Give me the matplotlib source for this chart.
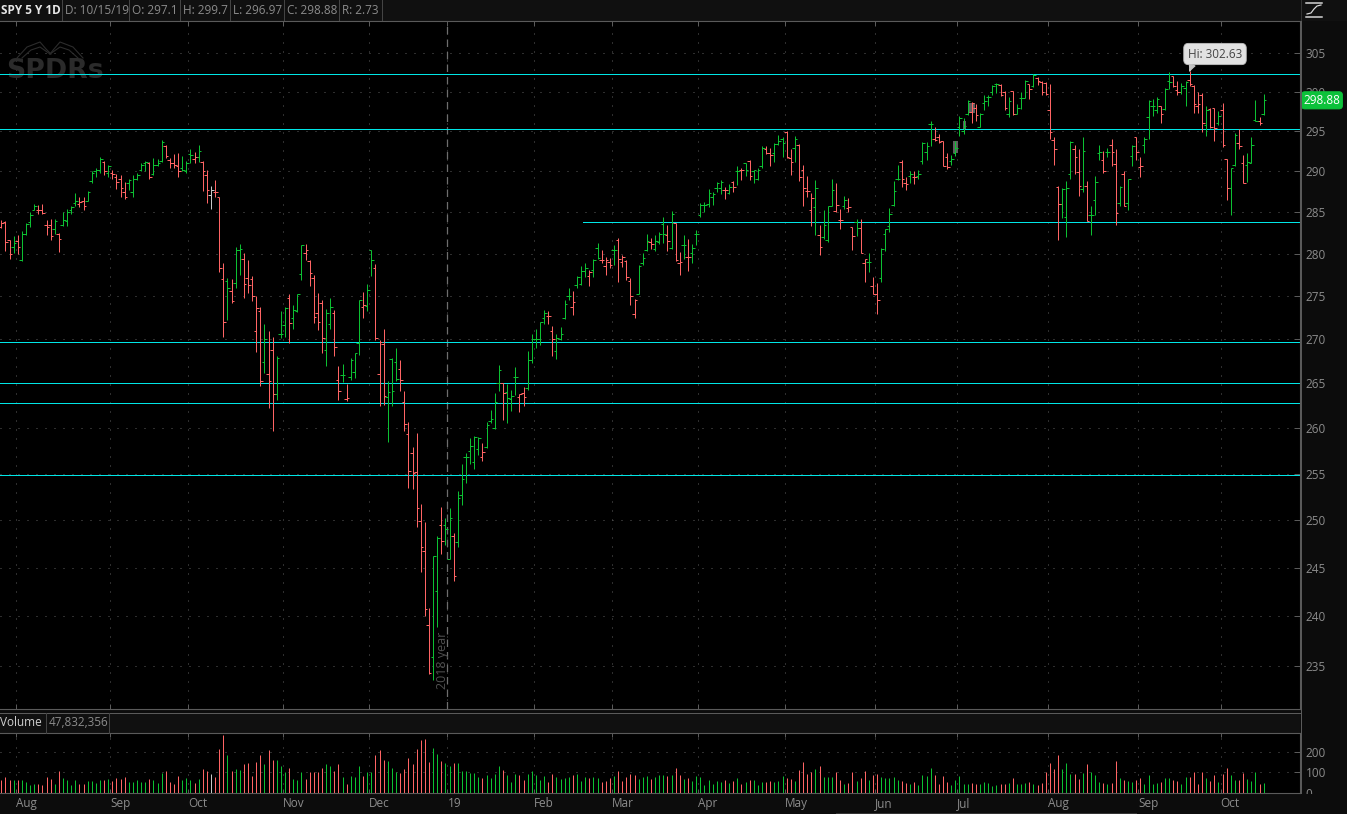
import matplotlib
matplotlib.use('Agg')
import matplotlib.pyplot as plt
from matplotlib.collections import LineCollection
from matplotlib.lines import Line2D
from matplotlib.patches import Rectangle
from matplotlib.ticker import NullLocator
from matplotlib.transforms import Bbox
import numpy as np

plt.rcParams['font.family'] = ['Open Sans', 'DejaVu Sans']

# SPY daily bars, 2018-07-26 to 2019-10-15
opens = [283.2,283.8,281.6,280.8,281.5,279.3,282.4,283.8,285.3,285.3,
    285.3,283.5,283.5,283.0,282.4,283.4,283.9,285.2,286.1,286.0,
    286.4,286.4,288.8,290.0,290.1,291.2,289.8,289.8,289.3,289.1,
    287.5,288.6,287.5,289.1,290.2,291.0,291.0,289.7,290.8,291.3,
    293.1,291.4,291.0,290.6,290.4,290.0,292.1,291.5,291.8,291.2,
    289.5,287.1,287.4,286.9,277.0,276.8,275.6,276.5,280.4,279.4,
    277.1,277.0,271.0,273.3,267.4,266.0,268.8,263.8,270.6,271.6,
    274.8,272.4,273.3,277.6,280.1,279.1,277.1,273.0,274.2,268.8,
    271.7,273.0,265.4,265.9,263.2,265.7,266.3,269.6,273.7,273.9,
    280.4,278.3,266.0,269.5,263.4,267.7,267.4,266.6,262.9,259.3,
    257.2,255.2,249.9,246.7,239.1,235.9,242.6,249.5,249.5,245.9,
    248.3,247.7,252.7,256.8,257.5,256.3,257.7,256.8,257.9,260.8,
    260.0,265.0,265.0,264.0,263.2,265.7,263.4,263.9,264.5,267.6,
    270.0,270.0,272.4,272.7,270.9,268.7,270.0,272.4,275.0,273.7,
    276.3,276.4,277.9,277.4,278.1,280.7,279.2,278.6,279.0,280.4,
    281.7,279.0,279.1,276.8,272.9,275.2,278.9,280.4,281.4,280.6,
    281.4,283.6,282.2,280.7,283.7,278.9,281.0,279.6,280.1,282.4,
    284.6,285.9,286.0,286.8,287.9,288.0,287.7,287.3,288.7,290.0,
    290.2,291.0,291.3,290.0,289.0,290.6,292.8,292.2,292.2,293.4,
    294.0,294.9,291.6,292.9,293.3,290.2,287.6,285.3,285.6,282.3,
    282.0,281.6,285.8,285.1,284.0,285.8,285.5,283.2,283.8,283.1,
    278.9,279.0,276.2,275.2,277.1,282.4,283.3,285.9,289.0,291.1,
    288.5,289.4,289.3,289.4,291.3,292.4,295.9,294.0,294.2,293.7,
    291.8,291.3,292.2,295.5,295.0,297.1,297.4,297.9,295.5,298.5,
    299.3,299.9,301.0,300.8,300.0,297.1,300.1,297.2,299.2,299.2,
    300.9,300.7,301.7,301.2,301.1,297.7,293.9,288.1,286.0,284.4,
    289.7,292.8,289.9,287.8,288.2,284.6,286.5,292.3,291.4,292.4,
    293.3,290.9,286.1,289.7,286.1,291.9,294.3,290.5,293.2,296.8,
    298.1,297.7,298.1,297.8,301.3,302.0,300.2,300.0,300.5,301.5,
    300.7,298.2,299.6,295.8,297.8,297.9,296.0,297.7,291.5,288.0,
    290.8,293.5,291.0,290.8,291.0,296.4,296.2,297.1]
highs = [284.1,283.9,281.6,282.1,282.2,282.7,283.7,285.0,286.0,285.9,
    286.0,284.1,284.2,284.2,282.5,285.0,285.4,285.7,287.3,286.8,
    286.8,287.6,290.0,290.4,291.7,291.3,290.8,290.2,289.7,289.5,
    288.7,289.1,289.5,289.8,291.0,291.3,291.1,291.6,291.5,293.9,
    293.2,291.6,292.1,292.2,291.9,291.3,292.8,292.4,293.2,291.3,
    290.2,288.2,288.9,286.9,278.9,277.1,277.0,280.8,281.2,280.1,
    279.3,277.4,275.0,273.7,271.8,271.0,270.3,268.1,273.3,273.7,
    275.2,274.0,275.2,281.1,281.2,279.3,277.5,275.4,274.6,273.5,
    274.8,273.4,267.0,267.2,264.9,267.8,268.4,274.6,275.5,276.4,
    280.5,278.8,269.9,271.2,265.2,267.8,269.0,267.6,264.1,260.7,
    257.9,259.4,251.7,249.8,240.8,246.2,248.3,251.4,250.2,251.3,
    248.6,253.1,256.0,257.3,258.9,259.1,259.0,258.3,260.7,262.0,
    263.9,267.1,265.0,264.9,264.2,266.8,263.8,264.6,268.6,270.6,
    271.2,272.0,273.4,273.3,271.5,270.6,271.4,274.6,276.0,275.6,
    277.4,278.6,278.9,278.1,279.4,281.3,280.4,279.6,279.5,281.0,
    281.9,279.8,279.2,277.1,274.7,278.7,280.1,282.4,281.9,282.3,
    282.6,284.4,283.5,285.1,283.7,280.2,282.2,281.8,281.2,282.9,
    286.1,286.2,287.8,287.4,288.7,288.9,288.1,288.4,288.8,290.6,
    290.4,291.0,291.4,290.2,290.4,293.1,293.1,292.9,293.5,294.5,
    294.2,295.0,292.8,294.4,293.4,290.8,289.4,287.3,288.9,283.5,
    285.2,285.8,289.1,288.5,285.4,287.0,286.7,283.2,284.2,284.2,
    279.4,280.1,277.2,276.5,280.7,283.0,285.5,288.8,290.8,291.4,
    289.3,290.0,290.0,290.2,293.6,293.6,296.2,295.5,294.6,293.8,
    292.3,292.0,293.7,296.9,296.6,298.9,298.7,298.4,297.3,299.6,
    299.6,300.8,301.1,301.0,300.1,299.3,300.1,298.4,300.0,301.5,
    301.0,302.2,301.9,301.3,301.2,300.9,294.2,288.2,288.0,288.8,
    293.7,293.2,292.7,294.2,288.8,285.7,289.4,293.2,292.5,292.9,
    294.0,292.8,288.2,290.0,289.1,293.3,294.3,291.7,294.2,298.9,
    299.0,299.3,298.1,300.4,302.5,302.0,301.3,301.1,301.3,302.63,
    300.8,299.9,299.8,298.2,297.9,297.9,297.5,298.5,291.5,290.4,
    294.7,295.2,292.0,292.3,294.3,298.9,296.8,299.7]
lows = [283.1,280.3,279.4,280.1,280.0,279.1,282.3,283.2,285.2,284.8,
    284.8,282.3,281.7,282.4,280.2,283.3,283.3,284.8,285.7,285.6,
    285.3,286.3,288.6,289.3,289.8,289.5,289.3,289.1,287.8,286.9,
    286.6,287.7,286.9,288.9,290.0,290.0,289.1,289.5,290.7,291.2,
    291.6,290.4,290.4,289.3,290.0,289.8,291.0,291.0,291.2,287.6,
    286.1,285.4,286.9,277.8,270.3,272.2,274.2,276.0,277.5,274.8,
    275.4,274.4,268.5,264.7,266.2,262.2,259.7,263.1,270.1,270.3,
    269.6,271.2,273.2,276.9,279.2,276.2,271.9,271.1,268.4,266.9,
    271.2,268.1,263.1,265.1,263.0,265.4,265.6,268.2,272.4,273.3,
    277.4,269.9,262.4,262.5,258.5,262.4,265.3,264.1,259.7,253.4,
    253.3,249.3,244.6,240.0,234.2,233.6,238.9,246.4,247.4,245.9,
    243.6,247.2,251.6,254.0,256.1,255.5,257.0,256.4,257.8,260.5,
    259.9,264.1,260.9,260.6,261.9,263.7,261.8,262.4,264.2,267.3,
    269.0,269.3,271.8,271.8,268.1,267.7,269.9,272.3,274.5,272.8,
    276.0,276.3,277.2,276.2,277.3,279.4,278.9,277.5,278.3,278.7,
    276.7,278.4,276.9,274.0,272.4,275.2,278.7,280.3,280.6,280.3,
    281.2,281.3,280.3,280.6,279.1,277.5,279.4,277.9,278.9,281.1,
    284.4,285.0,285.6,285.9,287.4,287.2,286.6,287.2,287.5,288.3,
    288.9,289.4,288.9,288.6,288.9,290.4,292.1,290.7,291.2,293.3,
    291.8,291.6,289.5,291.2,288.8,285.8,286.8,283.3,282.2,279.9,
    281.8,281.4,285.7,285.0,283.0,285.4,285.0,280.5,282.1,280.1,
    276.6,277.8,275.2,272.9,276.6,280.3,282.6,285.7,288.9,288.1,
    287.7,288.5,288.4,289.1,290.9,291.4,293.1,293.7,293.5,290.6,
    290.3,290.8,291.9,294.4,294.6,297.0,296.0,296.3,295.5,297.7,
    298.1,299.6,299.8,299.4,297.7,296.8,297.0,297.1,297.8,299.2,
    299.1,300.6,300.8,299.6,299.6,294.0,290.8,281.7,284.3,282.0,
    289.0,289.6,287.0,287.4,283.9,282.3,284.6,291.4,289.8,291.7,
    290.7,283.4,285.7,285.7,285.2,290.6,291.4,289.3,292.2,294.0,
    296.9,297.3,296.0,297.7,300.3,300.6,299.5,299.7,298.2,300.7,
    297.3,297.3,294.9,294.4,295.4,293.8,295.8,293.0,286.5,284.7,
    290.7,292.8,288.5,288.7,291.0,296.3,295.8,296.97]
closes = [283.7,281.4,280.0,281.3,280.8,282.4,283.6,284.6,285.7,285.2,
    284.9,283.2,282.1,283.9,281.8,284.0,285.0,285.6,286.3,286.2,
    285.7,287.4,289.8,290.2,291.5,290.0,290.6,289.7,288.7,287.9,
    286.9,288.9,289.1,289.5,290.8,291.1,289.3,290.8,291.0,293.6,
    291.9,291.0,290.8,290.0,290.2,291.0,292.0,291.7,292.5,290.0,
    287.7,287.7,287.4,278.3,272.0,276.0,274.4,280.5,280.6,276.4,
    276.3,275.0,273.6,265.3,270.0,265.3,263.8,267.8,270.6,273.6,
    271.9,273.4,275.2,281.1,280.5,277.7,272.6,272.0,270.1,273.0,
    273.7,269.1,264.1,265.9,263.3,267.6,268.4,274.6,274.0,275.7,
    279.2,270.2,269.7,263.6,264.0,264.1,265.5,265.4,260.4,255.3,
    255.1,251.3,247.2,240.7,234.3,246.2,248.1,247.8,249.1,250.2,
    244.1,252.4,254.4,256.8,258.0,259.0,258.9,257.4,260.3,261.0,
    262.9,266.5,263.9,263.3,263.6,265.7,263.8,263.4,267.6,270.0,
    270.0,272.0,273.0,272.7,270.0,270.1,270.6,274.1,275.0,274.3,
    277.3,277.9,278.3,277.8,279.2,279.5,279.2,279.2,278.7,280.4,
    279.4,279.6,277.3,275.0,274.5,278.6,279.5,281.5,281.2,281.5,
    282.4,282.4,281.5,284.8,279.2,279.0,281.1,279.6,280.7,282.4,
    285.9,285.9,287.3,287.2,288.6,288.7,287.7,288.1,288.1,290.0,
    290.1,290.1,289.4,290.2,290.2,292.9,292.2,292.0,293.4,293.8,
    293.5,291.7,291.1,294.0,289.3,287.9,287.6,286.7,288.0,280.8,
    283.5,285.7,287.7,285.9,284.0,286.5,285.6,282.1,283.1,280.1,
    279.4,279.0,275.2,274.5,280.6,283.0,284.8,287.6,289.0,289.0,
    288.4,289.6,289.3,289.6,293.5,293.1,295.9,293.9,293.6,290.7,
    290.5,291.5,292.9,296.6,295.6,298.8,298.5,297.0,297.2,298.8,
    299.3,300.7,301.0,299.5,297.9,298.8,297.1,297.9,299.2,301.4,
    300.3,302.1,301.3,300.0,299.7,294.9,292.7,286.0,287.8,288.0,
    293.6,291.7,288.2,292.5,283.9,284.6,288.7,292.4,290.0,292.4,
    292.4,284.9,288.1,285.8,289.0,293.1,292.4,290.7,294.0,298.8,
    298.1,299.1,297.2,300.3,301.2,300.7,299.9,300.7,301.2,301.0,
    298.4,298.4,296.0,297.7,295.5,295.4,296.9,293.2,288.0,290.4,
    294.5,293.1,288.6,291.2,293.3,296.3,296.0,298.88]
# volume in millions
volumes = [61,74,61,64,61,64,52,36,41,41,
    36,74,67,41,105,69,64,36,64,41,
    44,56,56,48,61,61,66,56,69,66,
    74,51,52,61,54,54,66,64,48,98,
    105,51,44,80,61,69,64,48,66,115,
    105,90,77,216,282,187,105,118,110,139,
    146,80,151,184,139,208,162,159,130,100,
    121,66,61,102,66,100,100,100,123,139,
    130,107,139,74,41,80,74,130,80,102,
    102,184,208,162,154,123,102,97,118,169,
    139,216,257,261,149,221,189,154,146,130,
    143,146,105,105,97,97,74,71,84,71,
    90,130,113,85,54,93,84,61,93,105,
    84,61,80,54,93,74,67,69,74,85,
    93,56,74,69,74,69,54,56,71,80,
    105,56,74,93,85,66,77,80,66,77,
    87,84,80,85,123,84,66,69,56,80,
    74,36,64,44,56,51,64,48,56,69,
    44,51,61,64,36,51,54,56,51,56,
    80,71,67,56,110,149,90,102,115,130,
    75,75,74,100,61,44,48,100,56,71,
    107,61,85,93,74,71,71,74,61,56,
    46,44,51,36,84,80,120,85,44,79,
    51,39,61,80,44,41,49,44,41,54,
    48,31,38,41,41,49,69,41,41,46,
    54,44,36,46,103,143,118,184,118,143,
    92,93,66,97,138,103,84,51,49,44,
    49,153,69,64,59,54,61,69,44,85,
    44,49,52,69,71,61,56,41,74,74,
    100,44,100,69,56,85,51,90,123,84,
    64,61,98,66,56,100,41,48]
# r down, g up, w unchanged
bar_colors = ("rrrgrggggr" "rrrgrggggr" "rggggrgrrr" "rgggggrggg" "rrrrgggrgr"
    "rwrrrgrggr" "rrrrgrrggg" "rgggrrrrrg" "grrgrgggrg" "grrrgggrrr"
    "rrrrrggrgg" "rggggggrgg" "ggrgggrrgg" "gggrrggggr" "gggrggrrrg"
    "rrrrrgggrg" "ggrgrrgrgg" "ggggggrgrg" "rgrgggrrgg" "grrgrrrrgr"
    "gggrrgrrgr" "rgrrgggggr" "rgrggggrrr" "rgggggrrgg" "gggrrgrggg"
    "rgrrrrrrgg" "grrgrgggrg" "rrgrggrrgg" "ggrggrrggr" "rrrgrrgrrg" "grrgggrg")

price_ticks = [235, 240, 245, 250, 255, 260, 265, 270, 275, 280, 285, 290, 295, 300, 305]
volume_ticks = [0, 100, 200]
month_labels = ['Aug', 'Sep', 'Oct', 'Nov', 'Dec', '19', 'Feb', 'Mar', 'Apr', 'May',
    'Jun', 'Jul', 'Aug', 'Sep', 'Oct']
# index of the first session of each month
month_starts = [4, 27, 46, 69, 90, 109, 130, 149, 170, 191, 213, 233, 255, 277, 297]
level_lines = [302.2, 295.2, 269.65, 265.0, 262.8, 254.9]
partial_level = 283.8
partial_level_start = 141.5
# little gray boxes near the July highs: first bar, last bar, low, high
gray_boxes = [(231.4, 232.6, 292.2, 293.8), (233.9, 234.6, 295.2, 296.3), (235.1, 236.8, 297.3, 298.6)]

assert len(opens) == len(highs) == len(lows) == len(closes) == len(volumes) == len(bar_colors) == 308

W, H = 1347, 814
BG = '#0c0c0c'
EDGE = '#5a5a5a'
GRID = '#5c5c5c'
TXT = '#8c8c8c'
CYAN = '#00e6e6'
palette = {'r': '#ff6464', 'g': '#0cc032', 'w': '#c8c8c8'}

fig = plt.figure(figsize=(W / 100, H / 100), dpi=100, facecolor=BG)


def panel(top, bottom):
    return fig.add_axes([0, (H - bottom) / H, 1300 / W, (bottom - top) / H], facecolor='black')


def px_line(xs, ys, color=EDGE, lw=1.0):
    fig.add_artist(Line2D(np.array(xs) / W, 1 - np.array(ys) / H, color=color, lw=lw * 0.72))


def px_text(x, y, s, color=TXT, size=8.5, **kw):
    fig.text(x / W, 1 - y / H, s, color=color, fontsize=size, va='center', **kw)


ax = panel(20.5, 708.5)
vol = panel(733, 792.5)

x = np.arange(len(closes))
cols = [palette[c] for c in bar_colors]
xlim = (-0.316, 315.83)
grid_x = np.array(month_starts) - 0.5

# price panel
ax.set_yscale('log')
ax.set_xlim(xlim)
ax.set_ylim(230.76, 309.2)
ax.yaxis.set_minor_locator(NullLocator())
ax.yaxis.set_major_locator(plt.FixedLocator(price_ticks))
ax.yaxis.set_major_formatter(plt.FixedFormatter([str(p) for p in price_ticks]))
ax.yaxis.tick_right()
ax.set_xticks(grid_x)
ax.set_xticklabels([])
ax.tick_params(axis='y', which='major', direction='in', length=4, width=0.72, color=EDGE,
    labelcolor=TXT, labelsize=8.5, pad=4)
ax.tick_params(axis='x', direction='in', length=3.5, width=0.72, color=EDGE, top=True, bottom=True)
ax.grid(True, color=GRID, lw=0.72, ls=(0, (1, 8)), zorder=0)
ax.set_axisbelow(True)
for s in ax.spines.values():
    s.set_color(EDGE)
    s.set_linewidth(0.8)
ax.spines['left'].set_visible(False)

# watermark
ax.text(6.5 / W, 1 - 77.5 / H, 'SPDRs', transform=fig.transFigure, family='DejaVu Sans', weight='bold',
    fontsize=19.3, color='#2b2b2b', va='baseline', zorder=1)
for lx, ly in [([17, 27, 40, 46, 51], [58, 47, 42, 49, 54]), ([83, 73, 60, 54, 50], [58, 47, 42, 49, 54]),
        ([22, 31, 40, 50], [58, 50, 47, 54]), ([78, 69, 60, 50], [58, 50, 47, 54])]:
    ax.plot(np.array(lx) / W, 1 - np.array(ly) / H, transform=fig.transFigure, color='#2c2c2c', lw=0.8, zorder=1)

for left, right, low, high in gray_boxes:
    ax.add_patch(Rectangle((left, low), right - left, high - low, fc='#5e5e5e', ec='none', zorder=1.5))

# levels
for lvl in level_lines:
    ax.axhline(lvl, color=CYAN, lw=0.72, zorder=2, snap=True)
ax.plot([partial_level_start, xlim[1]], [partial_level, partial_level], color=CYAN, lw=0.72, zorder=2, snap=True)

# year separator
ax.axvline(month_starts[5] - 0.5, color='#6e6e6e', lw=0.9, ls=(0, (6, 4)), zorder=1.8)
ax.text(month_starts[5] - 0.1, 232.7, '2018 year', rotation=90, color='#505050', fontsize=9,
    ha='right', va='bottom', zorder=2)

# ohlc bars
stems = [[(i, l), (i, h)] for i, l, h in zip(x, lows, highs)]
open_ticks = [[(i - 0.62, o), (i, o)] for i, o in zip(x, opens)]
close_ticks = [[(i, c), (i + 0.62, c)] for i, c in zip(x, closes)]
for segs in (stems, open_ticks, close_ticks):
    lc = LineCollection(segs, colors=cols, linewidths=0.72, capstyle='butt', zorder=3)
    lc.set_snap(True)
    ax.add_collection(lc)

# high bubble
hi = int(np.argmax(highs))
ax.annotate('Hi: %.2f' % highs[hi], xy=(hi, highs[hi]), xytext=(1215, H - 54), textcoords='figure pixels',
    ha='center', va='center', color='#444444', fontsize=8.5, zorder=6, annotation_clip=False,
    bbox=dict(boxstyle='round,pad=0.35,rounding_size=0.4', fc='#e2e2e2', ec='#bdbdbd', lw=0.6),
    arrowprops=dict(arrowstyle='wedge,tail_width=0.5,shrink_factor=0.4', fc='#c4c4c4', ec='#c4c4c4',
        relpos=(0.12, 0.1), shrinkA=0, shrinkB=0))

# last price flag
ax.annotate('%.2f' % closes[-1], xy=(1, closes[-1]), xycoords=ax.get_yaxis_transform(), xytext=(3.5, 0),
    textcoords='offset pixels', color='white', fontsize=8.5, va='center', ha='left', zorder=7,
    annotation_clip=False,
    bbox=dict(boxstyle='round,pad=0.18,rounding_size=0.3', fc='#0cc23a', ec='#0cc23a', lw=0.6))

# volume panel
vol.set_xlim(xlim)
vol.set_ylim(0, 293)
vbars = vol.vlines(x, 0, volumes, colors=cols, linewidths=0.72, zorder=3)
vbars.set_snap(True)
vol.yaxis.tick_right()
vol.set_yticks(volume_ticks)
vol.set_xticks(grid_x)
vol.set_xticklabels(month_labels, ha='left')
vol.tick_params(axis='y', direction='in', length=4, width=0.72, color=EDGE, labelcolor=TXT, labelsize=8.5, pad=4)
vol.tick_params(axis='x', direction='in', length=3, width=0.72, color=EDGE, top=True, bottom=True,
    labelcolor=TXT, labelsize=8.5, pad=3.5)
vol.grid(True, color=GRID, lw=0.72, ls=(0, (1, 8)), zorder=0)
vol.set_axisbelow(True)
for s in vol.spines.values():
    s.set_color(EDGE)
    s.set_linewidth(0.8)
vol.spines['left'].set_visible(False)
# the zero label is cut by the panel edge
zero = vol.get_yticklabels()[0]
zero.set_clip_on(True)
zero.set_clip_box(Bbox([[1300, H - 793.5], [W, H - 700]]))

# header bars
fig.add_artist(Rectangle((0, (H - 20.5) / H), 1, 20.5 / H, fc='#101010', ec='none', transform=fig.transFigure, zorder=-1))
fig.add_artist(Rectangle((0, (H - 733) / H), 1300 / W, 20 / H, fc='#101010', ec='none', transform=fig.transFigure, zorder=-1))
px_line([0, 1300], [712.5, 712.5])
px_line([1300.5, 1300.5], [20, 793])
px_line([1300.5, 1300.5], [0, 20], color='#333333')

for sx in [61.5, 128.5, 179.5, 229.5, 283.5, 338.5, 381.5]:
    px_line([sx, sx], [0, 20], color='#444444')
px_text(1, 10, 'SPY 5 Y 1D', color='#e8e8e8', weight='bold')
for tx, s in [(65, 'D: 10/15/19'), (132, 'O: 297.1'), (183, 'H: 299.7'), (233, 'L: 296.97'),
        (287, 'C: 298.88'), (342, 'R: 2.73')]:
    px_text(tx, 10, s)
px_text(0.5, 723, 'Volume', color='#d0d0d0')
px_text(49, 723, '47,832,356')
px_line([45.5, 45.5], [713, 733], color='#444444')
px_line([108.5, 108.5], [713, 733], color='#444444')

# study icon top right
px_line([1306, 1322], [3, 3], color='#d8d8d8', lw=1.5)
px_line([1306, 1322], [16.5, 16.5], color='#d8d8d8', lw=1.5)
px_line([1307, 1311, 1314, 1317, 1321], [14, 13, 9, 6, 5], color='#d8d8d8', lw=1.2)
# scrollbar stub at the bottom edge
px_line([836, 1136], [813, 813], color='#333333')

fig.savefig('out.png', dpi=100, facecolor=BG)
